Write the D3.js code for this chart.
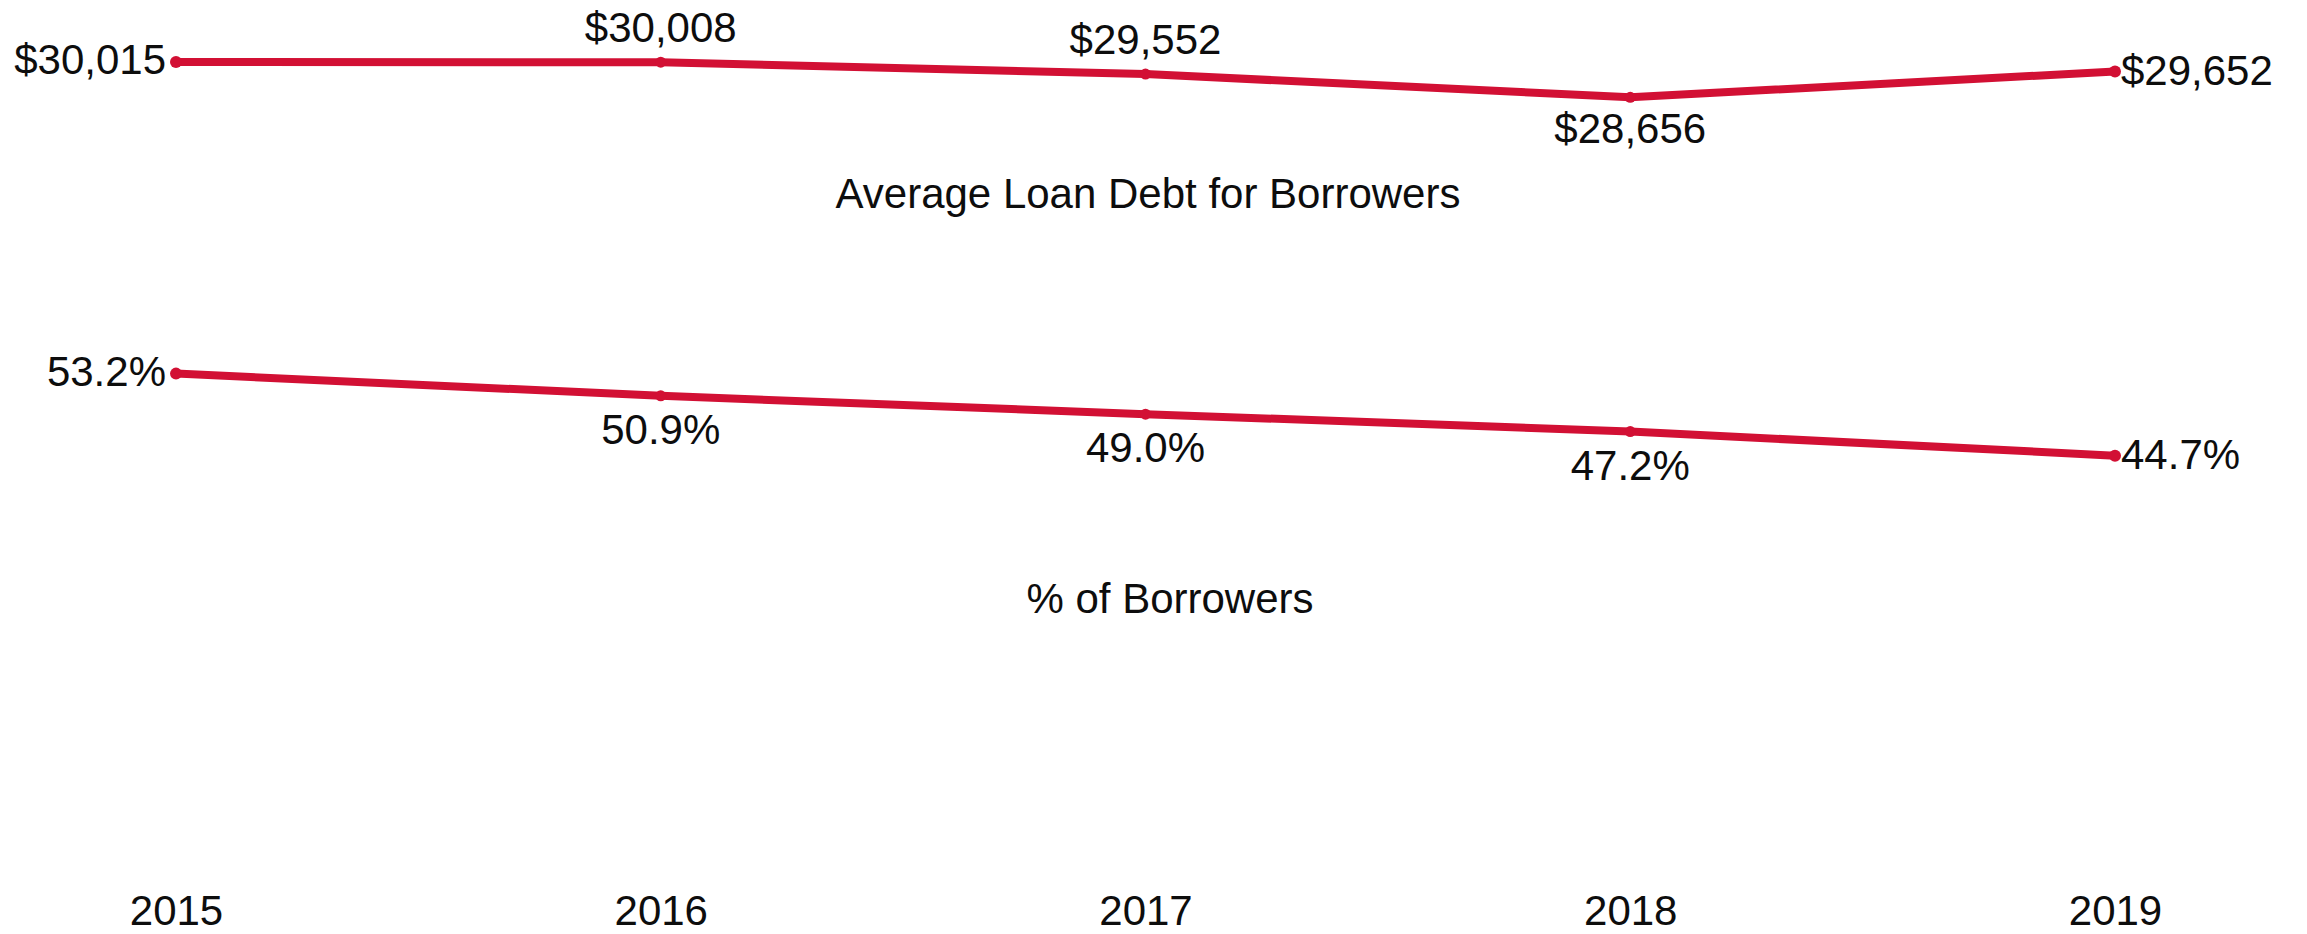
<!DOCTYPE html>
<html>
<head>
<meta charset="utf-8">
<script src="https://cdn.jsdelivr.net/npm/d3@7/dist/d3.min.js"></script>
<style>
  html, body { margin: 0; padding: 0; background: #ffffff; }
  svg { display: block; }
  text { font-family: "Liberation Sans", Arial, sans-serif; fill: #0d0d0d; }
</style>
</head>
<body>
<svg id="chart" width="2307" height="934"></svg>
<script>
// Yearly figures for the two panels
const years = ["2015", "2016", "2017", "2018", "2019"];
const avgDebt = [30015, 30008, 29552, 28656, 29652];
const pctBorrowers = [53.2, 50.9, 49.0, 47.2, 44.7];
// Label placement per point: "left", "right", "above", "below"
const debtLabelPos = ["left", "above", "above", "below", "right"];
const pctLabelPos = ["left", "below", "below", "below", "right"];

const W = 2307, H = 934;
const red = "#D21034";
const fontSize = 42;

const svg = d3.select("#chart");

const x = d3.scalePoint().domain(years).range([176, 2115]);

// Each panel has its own vertical scale
const yDebt = d3.scaleLinear().domain([28000, 31000]).range([114.4, 36.4]);
const yPct = d3.scaleLinear().domain([40, 60]).range([501, 308]);

const fmtDollar = v => "$" + d3.format(",")(v);
const fmtPct = v => d3.format(".1f")(v) + "%";

function drawPanel(values, y, fmt, positions, offs) {
  const data = years.map((yr, i) => ({ yr, v: values[i], pos: positions[i] }));
  const g = svg.append("g");

  g.append("path")
    .datum(data)
    .attr("fill", "none")
    .attr("stroke", red)
    .attr("stroke-width", 8)
    .attr("stroke-linejoin", "round")
    .attr("d", d3.line().x(d => x(d.yr)).y(d => y(d.v)));

  g.selectAll("circle")
    .data(data)
    .join("circle")
    .attr("cx", d => x(d.yr))
    .attr("cy", d => y(d.v))
    .attr("r", (d, i) => (i === 0 || i === data.length - 1) ? 6 : 5.5)
    .attr("fill", red);

  g.selectAll("text.lbl")
    .data(data)
    .join("text")
    .attr("class", "lbl")
    .attr("font-size", fontSize)
    .attr("text-anchor", d => d.pos === "left" ? "end" : d.pos === "right" ? "start" : "middle")
    .attr("x", d => x(d.yr) + (d.pos === "left" ? -10 : d.pos === "right" ? 6 : 0))
    .attr("y", d => y(d.v) + offs[d.pos])
    .text(d => fmt(d.v));
}

drawPanel(avgDebt, yDebt, fmtDollar, debtLabelPos, { left: 12, right: 14, above: -20, below: 46 });
drawPanel(pctBorrowers, yPct, fmtPct, pctLabelPos, { left: 12, right: 13, above: -20, below: 48 });

// Panel titles
svg.append("text")
  .attr("x", 1148).attr("y", 208)
  .attr("font-size", fontSize)
  .attr("text-anchor", "middle")
  .text("Average Loan Debt for Borrowers");

svg.append("text")
  .attr("x", 1170).attr("y", 613)
  .attr("font-size", fontSize)
  .attr("text-anchor", "middle")
  .text("% of Borrowers");

// Year axis along the bottom, no domain line or ticks
const axis = svg.append("g")
  .attr("transform", "translate(0,895)")
  .call(d3.axisBottom(x).tickSize(0).tickPadding(0));
axis.select(".domain").remove();
axis.selectAll("text")
  .attr("font-size", fontSize)
  .attr("font-family", "'Liberation Sans', Arial, sans-serif")
  .attr("fill", "#0d0d0d")
  .attr("dy", "0.71em");
</script>
</body>
</html>
